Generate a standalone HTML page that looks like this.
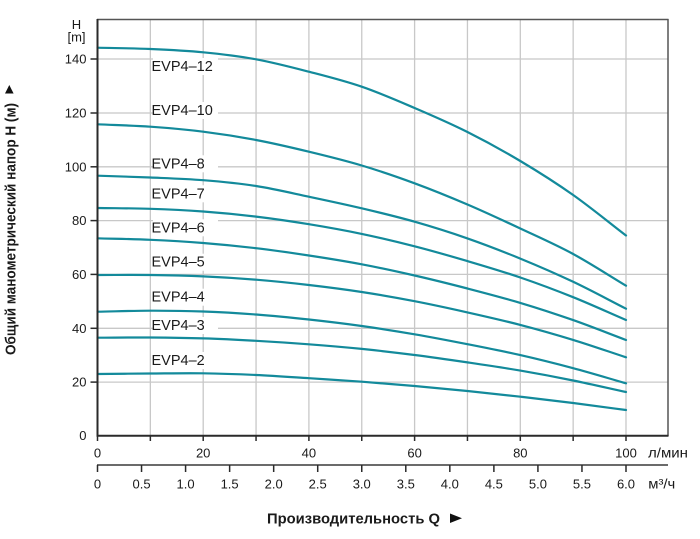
<!DOCTYPE html>
<html>
<head>
<meta charset="utf-8">
<style>
html,body{margin:0;padding:0;background:#fff;}
svg{display:block;}
text{font-family:"Liberation Sans",Arial,sans-serif;fill:#1a1a1a;}
</style>
</head>
<body>
<svg width="700" height="539" viewBox="0 0 700 539" xmlns="http://www.w3.org/2000/svg">
  <rect x="0" y="0" width="700" height="539" fill="#fff"/>

  <!-- vertical gridlines -->
  <g stroke="#c8c8c8" stroke-width="1.3">
    <line x1="150.35" y1="19.5" x2="150.35" y2="435.5"/>
    <line x1="203.2" y1="19.5" x2="203.2" y2="435.5"/>
    <line x1="256.05" y1="19.5" x2="256.05" y2="435.5"/>
    <line x1="308.9" y1="19.5" x2="308.9" y2="435.5"/>
    <line x1="361.75" y1="19.5" x2="361.75" y2="435.5"/>
    <line x1="414.6" y1="19.5" x2="414.6" y2="435.5"/>
    <line x1="467.45" y1="19.5" x2="467.45" y2="435.5"/>
    <line x1="520.3" y1="19.5" x2="520.3" y2="435.5"/>
    <line x1="573.15" y1="19.5" x2="573.15" y2="435.5"/>
    <line x1="626" y1="19.5" x2="626" y2="435.5"/>
  </g>
  <!-- horizontal gridlines -->
  <g stroke="#c8c8c8" stroke-width="1.3">
    <line x1="97.5" y1="59" x2="668" y2="59"/>
    <line x1="97.5" y1="113" x2="668" y2="113"/>
    <line x1="97.5" y1="166.8" x2="668" y2="166.8"/>
    <line x1="97.5" y1="220.6" x2="668" y2="220.6"/>
    <line x1="97.5" y1="274.4" x2="668" y2="274.4"/>
    <line x1="97.5" y1="328.3" x2="668" y2="328.3"/>
    <line x1="97.5" y1="382.1" x2="668" y2="382.1"/>
  </g>

  <!-- curve labels with white boxes -->
  <g fill="#fff">
    <rect x="153" y="58" width="65" height="17"/>
    <rect x="153" y="102" width="65" height="17"/>
    <rect x="153" y="155.3" width="65" height="17"/>
    <rect x="153" y="185.3" width="65" height="17"/>
    <rect x="153" y="219.3" width="65" height="17"/>
    <rect x="153" y="253.7" width="65" height="17"/>
    <rect x="153" y="288.7" width="65" height="17"/>
    <rect x="153" y="317" width="65" height="17"/>
    <rect x="153" y="352" width="65" height="17"/>
  </g>
  <g font-size="14.5">
    <text x="151.5" y="71">EVP4–12</text>
    <text x="151.5" y="115">EVP4–10</text>
    <text x="151.5" y="168.3">EVP4–8</text>
    <text x="151.5" y="198.3">EVP4–7</text>
    <text x="151.5" y="232.3">EVP4–6</text>
    <text x="151.5" y="266.7">EVP4–5</text>
    <text x="151.5" y="301.7">EVP4–4</text>
    <text x="151.5" y="330">EVP4–3</text>
    <text x="151.5" y="365">EVP4–2</text>
  </g>

  <!-- curves -->
  <g fill="none" stroke="#138a9b" stroke-width="2.2" stroke-linejoin="round" stroke-linecap="round">
    <path d="M97.5,47.7 C115.12,48.13 132.73,48.23 150.35,49 S185.58,50.58 203.2,52.3 S238.43,56.07 256.05,59.3 S291.28,67.13 308.9,71.7 S344.13,80.65 361.75,86.7 S396.98,100.45 414.6,108 S449.83,123.17 467.45,132 S502.68,150.5 520.3,161 S555.53,182.58 573.15,195 S608.38,222 626,235.5"/>
    <path d="M97.5,124.3 C115.12,125.1 132.73,125.47 150.35,126.7 S185.58,129.48 203.2,131.7 S238.43,136.67 256.05,140 S291.28,147.45 308.9,151.7 S344.13,160.23 361.75,165.5 S396.98,176.8 414.6,183.3 S449.83,196.97 467.45,204.5 S502.68,220.25 520.3,228.5 S555.53,244.47 573.15,254 S608.38,275.13 626,285.7"/>
    <path d="M97.5,175.7 C115.12,176.3 132.73,176.75 150.35,177.5 S185.58,178.78 203.2,180.2 S238.43,183.25 256.05,186 S291.28,192.98 308.9,196.7 S344.13,204.13 361.75,208.3 S396.98,216.68 414.6,221.7 S449.83,232.25 467.45,238.4 S502.68,251.37 520.3,258.6 S555.53,273.45 573.15,281.8 S608.38,299.73 626,308.7"/>
    <path d="M97.5,208 C115.12,208.27 132.73,208.22 150.35,208.8 S185.58,210.2 203.2,211.5 S238.43,214.48 256.05,216.6 S291.28,221.32 308.9,224.2 S344.13,230.22 361.75,233.9 S396.98,241.77 414.6,246.3 S449.83,255.9 467.45,261.1 S502.68,271.48 520.3,277.5 S555.53,290.12 573.15,297.2 S608.38,312.4 626,320"/>
    <path d="M97.5,238.3 C115.12,238.8 132.73,239.02 150.35,239.8 S185.58,241.6 203.2,243 S238.43,246.12 256.05,248.2 S291.28,252.82 308.9,255.5 S344.13,260.97 361.75,264.3 S396.98,271.47 414.6,275.5 S449.83,283.93 467.45,288.5 S502.68,297.63 520.3,302.9 S555.53,313.92 573.15,320.1 S608.38,333.37 626,340"/>
    <path d="M97.5,275 C115.12,275 132.73,274.77 150.35,275 S185.58,275.62 203.2,276.4 S238.43,278.27 256.05,279.7 S291.28,282.95 308.9,285 S344.13,289.3 361.75,292 S396.98,297.8 414.6,301.2 S449.83,308.45 467.45,312.4 S502.68,320.32 520.3,324.9 S555.53,334.5 573.15,339.9 S608.38,351.5 626,357.3"/>
    <path d="M97.5,311.7 C115.12,311.37 132.73,310.73 150.35,310.7 S185.58,310.87 203.2,311.5 S238.43,313.17 256.05,314.5 S291.28,317.58 308.9,319.5 S344.13,323.53 361.75,326 S396.98,331.27 414.6,334.3 S449.83,340.73 467.45,344.2 S502.68,351.1 520.3,355.1 S555.53,363.5 573.15,368.2 S608.38,378.27 626,383.3"/>
    <path d="M97.5,337.7 C115.12,337.63 132.73,337.38 150.35,337.5 S185.58,337.85 203.2,338.4 S238.43,339.82 256.05,340.8 S291.28,342.95 308.9,344.3 S344.13,347.12 361.75,348.9 S396.98,352.75 414.6,355 S449.83,359.8 467.45,362.4 S502.68,367.58 520.3,370.6 S555.53,376.93 573.15,380.5 S608.38,388.17 626,392"/>
    <path d="M97.5,374 C115.12,373.83 132.73,373.62 150.35,373.5 S185.58,373.05 203.2,373.3 S238.43,374.18 256.05,375 S291.28,377.08 308.9,378.2 S344.13,380.4 361.75,381.7 S396.98,384.45 414.6,386 S449.83,389.22 467.45,391 S502.68,394.7 520.3,396.7 S555.53,400.78 573.15,403 S608.38,407.67 626,410"/>
  </g>

  <!-- frame -->
  <line x1="97" y1="19.5" x2="668.5" y2="19.5" stroke="#555" stroke-width="1.5"/>
  <line x1="668" y1="19" x2="668" y2="436" stroke="#555" stroke-width="1.5"/>
  <line x1="97.5" y1="19" x2="97.5" y2="436.5" stroke="#2a2a2a" stroke-width="2"/>
  <line x1="96.5" y1="435.8" x2="668.5" y2="435.8" stroke="#2a2a2a" stroke-width="2"/>

  <!-- y ticks -->
  <g stroke="#2a2a2a" stroke-width="1.5">
    <line x1="90.5" y1="59" x2="97.5" y2="59"/>
    <line x1="90.5" y1="113" x2="97.5" y2="113"/>
    <line x1="90.5" y1="166.8" x2="97.5" y2="166.8"/>
    <line x1="90.5" y1="220.6" x2="97.5" y2="220.6"/>
    <line x1="90.5" y1="274.4" x2="97.5" y2="274.4"/>
    <line x1="90.5" y1="328.3" x2="97.5" y2="328.3"/>
    <line x1="90.5" y1="382.1" x2="97.5" y2="382.1"/>
  </g>
  <g font-size="13" text-anchor="end">
    <text x="86.5" y="63.5">140</text>
    <text x="86.5" y="117.5">120</text>
    <text x="86.5" y="171.3">100</text>
    <text x="86.5" y="225.1">80</text>
    <text x="86.5" y="278.9">60</text>
    <text x="86.5" y="332.8">40</text>
    <text x="86.5" y="386.6">20</text>
    <text x="86.5" y="440">0</text>
  </g>
  <g font-size="13" text-anchor="middle">
    <text x="76.5" y="29">H</text>
    <text x="76.5" y="41.5">[m]</text>
  </g>

  <!-- x ticks (l/min) -->
  <g stroke="#2a2a2a" stroke-width="1.5">
    <line x1="97.5" y1="435" x2="97.5" y2="441"/>
    <line x1="150.35" y1="435" x2="150.35" y2="441"/>
    <line x1="203.2" y1="435" x2="203.2" y2="441"/>
    <line x1="256.05" y1="435" x2="256.05" y2="441"/>
    <line x1="308.9" y1="435" x2="308.9" y2="441"/>
    <line x1="361.75" y1="435" x2="361.75" y2="441"/>
    <line x1="414.6" y1="435" x2="414.6" y2="441"/>
    <line x1="467.45" y1="435" x2="467.45" y2="441"/>
    <line x1="520.3" y1="435" x2="520.3" y2="441"/>
    <line x1="573.15" y1="435" x2="573.15" y2="441"/>
    <line x1="626" y1="435" x2="626" y2="441"/>
  </g>
  <g font-size="13" text-anchor="middle">
    <text x="97.5" y="457.5">0</text>
    <text x="203.2" y="457.5">20</text>
    <text x="308.9" y="457.5">40</text>
    <text x="414.6" y="457.5">60</text>
    <text x="520.3" y="457.5">80</text>
    <text x="626" y="457.5">100</text>
  </g>
  <text x="648" y="457.5" font-size="14" textLength="40" lengthAdjust="spacingAndGlyphs">л/мин</text>

  <!-- second axis (m3/h) -->
  <line x1="97" y1="465" x2="668" y2="465" stroke="#3a3a3a" stroke-width="1.5"/>
  <g stroke="#2a2a2a" stroke-width="1.5">
    <line x1="97.5" y1="465" x2="97.5" y2="472"/>
    <line x1="141.54" y1="465" x2="141.54" y2="472"/>
    <line x1="185.58" y1="465" x2="185.58" y2="472"/>
    <line x1="229.63" y1="465" x2="229.63" y2="472"/>
    <line x1="273.67" y1="465" x2="273.67" y2="472"/>
    <line x1="317.71" y1="465" x2="317.71" y2="472"/>
    <line x1="361.75" y1="465" x2="361.75" y2="472"/>
    <line x1="405.79" y1="465" x2="405.79" y2="472"/>
    <line x1="449.83" y1="465" x2="449.83" y2="472"/>
    <line x1="493.88" y1="465" x2="493.88" y2="472"/>
    <line x1="537.92" y1="465" x2="537.92" y2="472"/>
    <line x1="581.96" y1="465" x2="581.96" y2="472"/>
    <line x1="626" y1="465" x2="626" y2="472"/>
  </g>
  <g font-size="13" text-anchor="middle">
    <text x="97.5" y="488.5">0</text>
    <text x="141.54" y="488.5">0.5</text>
    <text x="185.58" y="488.5">1.0</text>
    <text x="229.63" y="488.5">1.5</text>
    <text x="273.67" y="488.5">2.0</text>
    <text x="317.71" y="488.5">2.5</text>
    <text x="361.75" y="488.5">3.0</text>
    <text x="405.79" y="488.5">3.5</text>
    <text x="449.83" y="488.5">4.0</text>
    <text x="493.88" y="488.5">4.5</text>
    <text x="537.92" y="488.5">5.0</text>
    <text x="581.96" y="488.5">5.5</text>
    <text x="626" y="488.5">6.0</text>
  </g>
  <text x="648.3" y="488.5" font-size="14" textLength="27" lengthAdjust="spacingAndGlyphs">м³/ч</text>

  <!-- x axis title -->
  <text x="267" y="523.3" font-size="14.5" font-weight="bold" textLength="173" lengthAdjust="spacingAndGlyphs">Производительность Q</text>
  <polygon points="450,513.5 450,523 462,518.3" fill="#111"/>

  <!-- y axis title -->
  <text transform="translate(15.5,229) rotate(-90)" font-size="14.5" font-weight="bold" text-anchor="middle" textLength="252" lengthAdjust="spacingAndGlyphs">Общий манометрический напор H (м)</text>
  <polygon points="9.3,85 5,93.5 13.6,93.5" fill="#111"/>
</svg>
</body>
</html>
